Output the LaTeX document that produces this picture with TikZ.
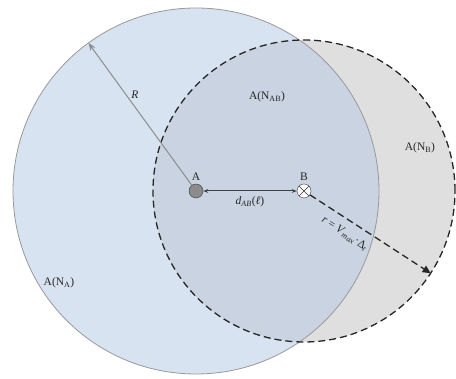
\documentclass[tikz,border=0pt]{standalone}
\usepackage{fontspec}
\setmainfont{Liberation Serif}
\usetikzlibrary{arrows.meta, positioning}
\definecolor{cellA}{HTML}{D8E3F1}
\definecolor{cellB}{HTML}{DFDFDF}
\definecolor{cellAB}{HTML}{C9D3E1}

\begin{document}
\begin{tikzpicture}[x=1pt, y=1pt, font=\fontsize{11.5}{13}\selectfont, text=black!85]
  \tikzstyle{nodeA} = [circle, draw=black!80, fill=black!45, minimum size=14pt, inner sep=0pt]
  \tikzstyle{nodeB} = [circle, draw=black!80, fill=white, minimum size=14pt, inner sep=0pt,
    path picture={\draw[black!80] (path picture bounding box.south west) -- (path picture bounding box.north east)
      (path picture bounding box.north west) -- (path picture bounding box.south east);}]
  \tikzstyle{dashline} = [black!85, line width=1.3pt, dash pattern=on 7pt off 4pt]
  \tikzstyle{lbl} = [text=black!85]

  \useasboundingbox (0,0) rectangle (456,379);
  \coordinate (cA) at (196,188);
  \coordinate (cB) at (304,188);

  % coverage areas
  \fill [cellB] (cB) circle (151);
  \fill [cellA] (cA) circle (183);
  \begin{scope}
    \clip (cA) circle (183);
    \fill [cellAB] (cB) circle (151);
  \end{scope}
  \draw [black!40, line width=0.8pt] (cA) circle (183);
  \draw [dashline] (cB) circle (151);

  \node [nodeA] (A) at (cA) {};
  \node [nodeB] (B) at (cB) {};
  \node [lbl, above=0pt of A] (lblA) {A};
  \node [lbl, above=0pt of B] (lblB) {B};

  \coordinate (Rtip) at ([shift={(126:183)}]cA);
  \coordinate (rtip) at ([shift={(-33:151)}]cB);

  \draw [black!45, line width=1pt, -{Stealth[length=8pt]}] (A) -- node [lbl, pos=0.6, anchor=south west, inner sep=1pt] {\textit{R}} (Rtip);
  \draw [black!75, line width=1pt, {Stealth[length=5pt]}-{Stealth[length=5pt]}] (A) -- node [lbl, below=2pt] {\textit{d}\textsubscript{\textit{AB}}(\textit{ℓ})} (B);
  \draw [dashline, -{Triangle[length=8pt]}] (B) -- node [lbl, sloped, below=5pt, pos=0.35] {\textit{r} = \textit{V}\textsubscript{\textit{max}}·Δ\textsubscript{\textit{t}}} (rtip);

  \node [lbl] (nAB) at (267,282) {A(N\textsubscript{AB})};
  \node [lbl] (nB) at (420,231) {A(N\textsubscript{B})};
  \node [lbl] (nA) at (59,96) {A(N\textsubscript{A})};
\end{tikzpicture}
\end{document}
